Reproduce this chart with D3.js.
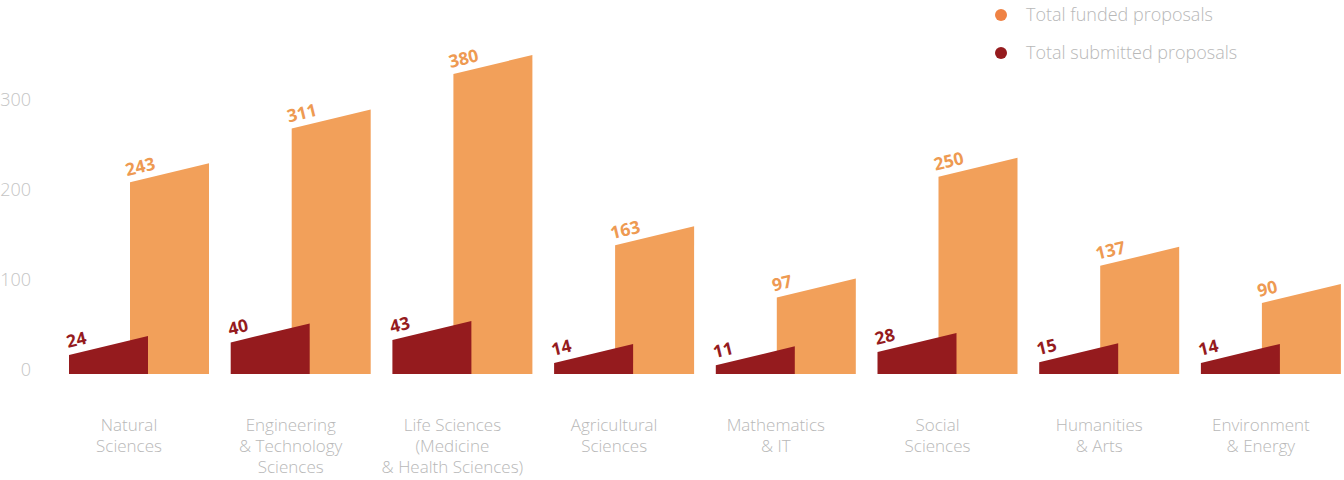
<!doctype html>
<meta charset="utf-8">
<head>
<script src="https://d3js.org/d3.v7.min.js"></script>
<style>
  body { margin: 0; background: #fff; }
  text { font-family: "Open Sans", sans-serif; }
</style>
</head>
<body>
<svg width="1344" height="480"></svg>
<script>
    // categories and values
    let categories = [
        ["Natural", "Sciences"],
        ["Engineering", "& Technology", "Sciences"],
        ["Life Sciences", "(Medicine", "& Health Sciences)"],
        ["Agricultural", "Sciences"],
        ["Mathematics", "& IT"],
        ["Social", "Sciences"],
        ["Humanities", "& Arts"],
        ["Environment", "& Energy"]
    ];
    let funded = [243, 311, 380, 163, 97, 250, 137, 90];
    let submitted = [24, 40, 43, 14, 11, 28, 15, 14];
    let axisTicks = [0, 100, 200, 300];
    let seriesNames = ["Total funded proposals", "Total submitted proposals"];

    let orange = "#f2a05a";
    let orangeText = "#ee9a52";
    let orangeDot = "#ef8244";
    let red = "#951b1e";
    let grey = "#c4c4c4";
    let labelGrey = "#b8b8b8";

    let svg = d3.select("svg");
    let baseline = 374;
    let barW = 79;
    let slant = 19;          // rise of the slanted bar top
    let fundedShift = 61;    // funded bar sits right of the submitted bar

    let keys = categories.map((d) => d.join(" "));
    let x = d3.scaleBand()
        .domain(keys)
        .range([69, 69 + 8 * 161.7]);

    let y = d3.scaleLinear()
        .domain([0, 380])
        .range([baseline, baseline - 300]);

    // the printed axis does not line up with the bars in the original
    let yAxisScale = d3.scaleLinear()
        .domain([0, 300])
        .range([370, 100]);

    let yAxis = d3.axisLeft(yAxisScale)
        .tickValues(axisTicks)
        .tickSize(0)
        .tickPadding(0);

    svg.append("g")
        .attr("transform", "translate(31,0)")
        .call(yAxis)
        .call((g) => g.select(".domain").remove())
        .selectAll("text")
        .attr("fill", grey)
        .attr("font-size", 18)
        .attr("font-weight", 300)
        .attr("font-family", "Open Sans, sans-serif");

    function barPath(x0, v) {
        let top = y(v);
        return `M${x0} ${baseline} L${x0} ${top} L${x0 + barW} ${top - slant} L${x0 + barW} ${baseline} Z`;
    }

    let angle = -Math.atan(slant / barW) * 180 / Math.PI;

    let groups = svg.selectAll(".group")
        .data(keys)
        .enter().append("g")
        .attr("class", "group");

    groups.append("path")
        .attr("fill", orange)
        .attr("d", (d, i) => barPath(x(d) + fundedShift, funded[i]));

    groups.append("path")
        .attr("fill", red)
        .attr("d", (d, i) => barPath(x(d), submitted[i]));

    groups.append("text")
        .attr("fill", orangeText)
        .attr("font-size", 17.5)
        .attr("font-weight", 700)
        .attr("transform", (d, i) =>
            `translate(${x(d) + fundedShift - 3},${y(funded[i]) - 6}) rotate(${angle})`)
        .text((d, i) => funded[i]);

    groups.append("text")
        .attr("fill", red)
        .attr("font-size", 17.5)
        .attr("font-weight", 700)
        .attr("transform", (d, i) =>
            `translate(${x(d) - 1},${y(submitted[i]) - 7}) rotate(${angle})`)
        .text((d, i) => submitted[i]);

    // category labels
    groups.append("text")
        .attr("fill", labelGrey)
        .attr("font-size", 17)
        .attr("font-weight", 300)
        .attr("text-anchor", "middle")
        .attr("transform", (d) => `translate(${x(d) + 60},431)`)
        .selectAll("tspan")
        .data((d, i) => categories[i])
        .enter().append("tspan")
        .attr("x", 0)
        .attr("y", (d, j) => j * 21)
        .text((d) => d);

    // legend
    let legend = svg.selectAll(".legend")
        .data(seriesNames)
        .enter().append("g")
        .attr("class", "legend")
        .attr("transform", (d, i) => `translate(1001,${15 + i * 38})`);

    legend.append("circle")
        .attr("r", 6)
        .attr("fill", (d, i) => i == 0 ? orangeDot : red);

    legend.append("text")
        .attr("x", 25)
        .attr("dy", "0.35em")
        .attr("fill", labelGrey)
        .attr("font-size", 18)
        .attr("font-weight", 300)
        .text((d) => d);
</script>
</body>
